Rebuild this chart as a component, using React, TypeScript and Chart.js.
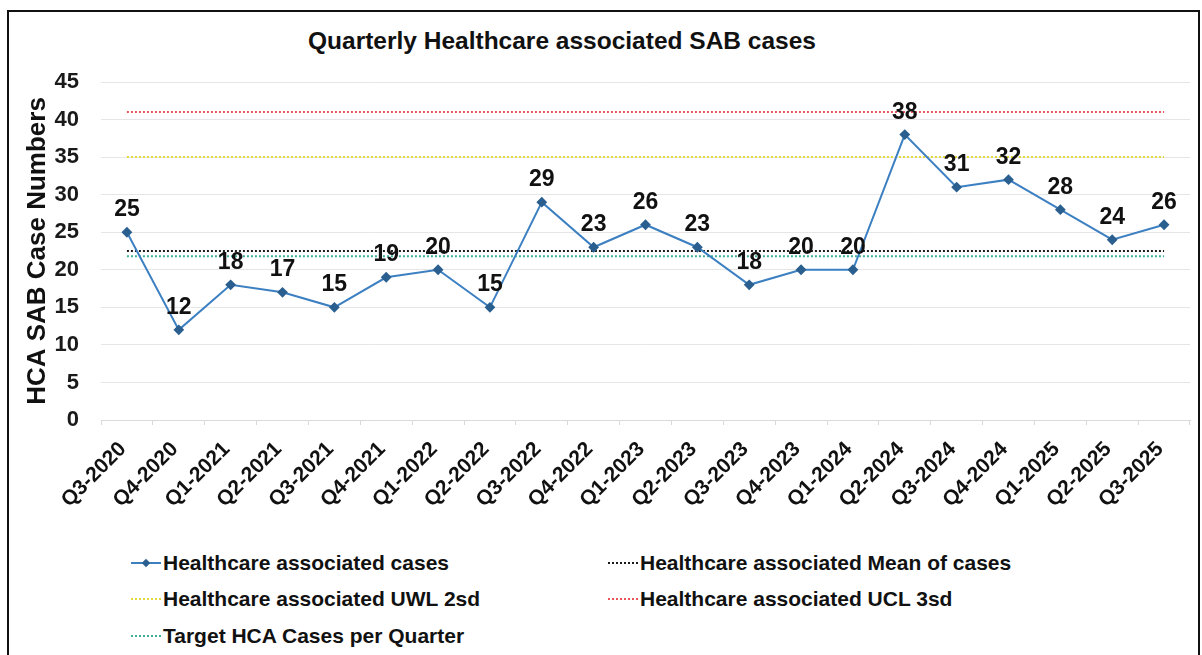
import React, { useEffect, useRef } from "react";
import { Chart, registerables } from "chart.js";

Chart.register(...registerables);

const categories = [
  "Q3-2020", "Q4-2020", "Q1-2021", "Q2-2021", "Q3-2021", "Q4-2021", "Q1-2022",
  "Q2-2022", "Q3-2022", "Q4-2022", "Q1-2023", "Q2-2023", "Q3-2023", "Q4-2023",
  "Q1-2024", "Q2-2024", "Q3-2024", "Q4-2024", "Q1-2025", "Q2-2025", "Q3-2025",
];
const hcaCases = [25, 12, 18, 17, 15, 19, 20, 15, 29, 23, 26, 23, 18, 20, 20, 38, 31, 32, 28, 24, 26];
const meanValue = 22.5;
const uwlValue = 35;
const uclValue = 41;
const targetValue = 21.8;
const yTicks = [0, 5, 10, 15, 20, 25, 30, 35, 40, 45];

const FONT = '"Liberation Sans", Arial, sans-serif';
const BLUE = "#3d80c2";
const MARKER = "#2a5f8f";
const MEAN_C = "#1a1a1a";
const UWL_C = "#e2d93a";
const UCL_C = "#e8555a";
const TGT_C = "#3fae9a";

const legendItems = [
  { label: "Healthcare associated cases", color: BLUE, kind: "series", col: 0, row: 0 },
  { label: "Healthcare associated Mean of cases", color: MEAN_C, kind: "dot", col: 1, row: 0 },
  { label: "Healthcare associated UWL 2sd", color: UWL_C, kind: "dot", col: 0, row: 1 },
  { label: "Healthcare associated UCL 3sd", color: UCL_C, kind: "dot", col: 1, row: 1 },
  { label: "Target HCA Cases per Quarter", color: TGT_C, kind: "dot", col: 0, row: 2 },
];

const constLine = (v: number) => categories.map(() => v);

const dataLabelPlugin = {
  id: "dataLabels",
  afterDatasetsDraw(chart: any) {
    const meta = chart.getDatasetMeta(0);
    const ctx = chart.ctx;
    ctx.save();
    ctx.font = `bold 23px ${FONT}`;
    ctx.fillStyle = "#111";
    ctx.textAlign = "center";
    ctx.textBaseline = "alphabetic";
    meta.data.forEach((el: any, i: number) => {
      ctx.fillText(String(hcaCases[i]), el.x, el.y - 16);
    });
    ctx.restore();
  },
};

export default function App() {
  const ref = useRef<HTMLCanvasElement | null>(null);
  useEffect(() => {
    if (!ref.current) return;
    const chart = new Chart(ref.current, {
      type: "line",
      data: {
        labels: categories,
        datasets: [
          {
            label: "Healthcare associated cases",
            data: hcaCases,
            borderColor: BLUE,
            backgroundColor: MARKER,
            borderWidth: 2,
            pointStyle: "rectRot",
            pointRadius: 4,
            pointBackgroundColor: MARKER,
            pointBorderColor: MARKER,
            tension: 0,
            order: 0,
          },
          {
            label: "Healthcare associated Mean of cases",
            data: constLine(meanValue),
            borderColor: MEAN_C,
            borderWidth: 2,
            borderDash: [2, 2],
            pointRadius: 0,
            order: 2,
          },
          {
            label: "Healthcare associated UWL 2sd",
            data: constLine(uwlValue),
            borderColor: UWL_C,
            borderWidth: 2,
            borderDash: [2, 2],
            pointRadius: 0,
            order: 3,
          },
          {
            label: "Healthcare associated UCL 3sd",
            data: constLine(uclValue),
            borderColor: UCL_C,
            borderWidth: 2,
            borderDash: [2, 2],
            pointRadius: 0,
            order: 4,
          },
          {
            label: "Target HCA Cases per Quarter",
            data: constLine(targetValue),
            borderColor: TGT_C,
            borderWidth: 2,
            borderDash: [2, 2],
            pointRadius: 0,
            order: 1,
          },
        ],
      },
      options: {
        animation: false,
        responsive: false,
        layout: { padding: { top: 70, right: 8, bottom: 0, left: 0 } },
        plugins: {
          legend: { display: false },
          title: { display: false },
          tooltip: { enabled: false },
        },
        scales: {
          x: {
            offset: true,
            afterFit: (s: any) => { s.height = 122; },
            grid: {
              offset: true,
              drawOnChartArea: false,
              drawTicks: true,
              tickLength: 5,
              color: "#d9d9d9",
            },
            border: { display: true, color: "#d9d9d9" },
            ticks: {
              autoSkip: false,
              maxRotation: 45,
              minRotation: 45,
              padding: 12,
              labelOffset: -4,
              color: "#111",
              font: { family: FONT, size: 21, weight: "bold" },
            },
          },
          y: {
            min: 0,
            max: 45,
            afterFit: (s: any) => { s.width = 92; },
            afterBuildTicks: (s: any) => { s.ticks = yTicks.map((v) => ({ value: v })); },
            grid: { color: "#e6e6e6", drawTicks: false },
            border: { display: false },
            ticks: {
              padding: 22,
              color: "#1a1a1a",
              font: { family: FONT, size: 22, weight: "bold" },
            },
            title: {
              display: true,
              text: "HCA SAB Case Numbers",
              color: "#111",
              padding: { top: 13, bottom: 0 },
              font: { family: FONT, size: 26, weight: "bold" },
            },
          },
        },
      },
      plugins: [dataLabelPlugin],
    });
    return () => chart.destroy();
  }, []);

  return (
    <div
      style={{
        position: "absolute",
        left: 7,
        top: 10,
        width: 1189,
        height: 643,
        border: "2px solid #111",
        borderBottom: "none",
        background: "#fff",
        fontFamily: FONT,
      }}
    >
      <div
        style={{
          position: "absolute",
          left: 299,
          top: 15,
          fontSize: 24.5,
          lineHeight: "28px",
          fontWeight: "bold",
          color: "#111",
          whiteSpace: "nowrap",
        }}
      >
        Quarterly Healthcare associated SAB cases
      </div>
      <canvas
        ref={ref}
        width={1189}
        height={530}
        style={{ position: "absolute", left: 0, top: 0, width: 1189, height: 530 }}
      />
      {legendItems.map((it) => {
        const left = it.col === 0 ? 121 : 598;
        const centers = [551, 587, 624];
        const top = centers[it.row] - 15;
        return (
          <div
            key={it.label}
            style={{
              position: "absolute",
              left,
              top,
              height: 30,
              display: "flex",
              alignItems: "center",
              whiteSpace: "nowrap",
            }}
          >
            <svg width={32} height={12} style={{ marginRight: 1 }}>
              {it.kind === "series" ? (
                <g>
                  <line x1={1} y1={6} x2={31} y2={6} stroke={it.color} strokeWidth={2} />
                  <rect x={13} y={3} width={6} height={6} fill={MARKER} transform="rotate(45 16 6)" />
                </g>
              ) : (
                <line x1={1} y1={6} x2={31} y2={6} stroke={it.color} strokeWidth={2} strokeDasharray="2 2" />
              )}
            </svg>
            <span style={{ fontSize: 21, fontWeight: "bold", color: "#111" }}>{it.label}</span>
          </div>
        );
      })}
    </div>
  );
}
